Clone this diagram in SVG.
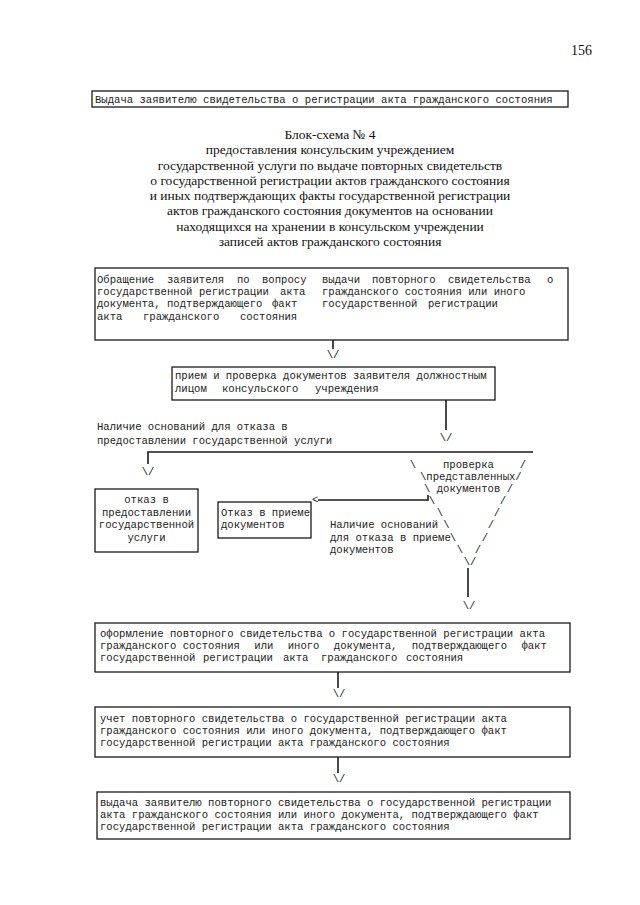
<svg xmlns="http://www.w3.org/2000/svg" width="640" height="905" viewBox="0 0 640 905">
<style>
.bx{fill:#fff;stroke:#1a1a1a;stroke-width:1.3}
.m{font-family:"Liberation Mono","Courier New",monospace;font-size:10.6px;fill:#222}
.c{text-anchor:middle}
.t{font-family:"Liberation Serif","Times New Roman",serif;font-size:13.5px;fill:#111;text-anchor:middle}
.ln{stroke:#1a1a1a;stroke-width:1.6;fill:none}
</style>
<rect width="640" height="905" fill="#fff"/>
<text x="571" y="55" font-family="Liberation Serif, Times New Roman, serif" font-size="14" fill="#111">156</text>

<g id="header">
<rect class="bx" x="92" y="91" width="476" height="16"/>
<text class="m" x="95" y="103">Выдача заявителю свидетельства о регистрации акта гражданского состояния</text>
</g>

<g id="title">
<text class="t" x="330" y="139">Блок-схема № 4</text>
<text class="t" x="330" y="154">предоставления консульским учреждением</text>
<text class="t" x="330" y="169.5">государственной услуги по выдаче повторных свидетельств</text>
<text class="t" x="330" y="184.5">о государственной регистрации актов гражданского состояния</text>
<text class="t" x="330" y="200">и иных подтверждающих факты государственной регистрации</text>
<text class="t" x="330" y="215">актов гражданского состояния документов на основании</text>
<text class="t" x="330" y="230.5">находящихся на хранении в консульском учреждении</text>
<text class="t" x="330" y="245.5">записей актов гражданского состояния</text>
</g>

<g id="n1">
<rect class="bx" x="95" y="268" width="473" height="72"/>
<text class="m" y="283"><tspan x="97">Обращение</tspan><tspan x="167">заявителя</tspan><tspan x="237">по</tspan><tspan x="262">вопросу</tspan><tspan x="322">выдачи</tspan><tspan x="372">повторного</tspan><tspan x="448">свидетельства</tspan><tspan x="547">о</tspan></text>
<text class="m" y="295"><tspan x="97">государственной</tspan><tspan x="199">регистрации</tspan><tspan x="280">акта</tspan><tspan x="322">гражданского состояния или иного</tspan></text>
<text class="m" y="307"><tspan x="97">документа,</tspan><tspan x="167">подтверждающего</tspan><tspan x="272">факт</tspan><tspan x="322">государственной</tspan><tspan x="428">регистрации</tspan></text>
<text class="m" y="320"><tspan x="97">акта</tspan><tspan x="143">гражданского</tspan><tspan x="240">состояния</tspan></text>
</g>

<g id="n2">
<rect class="bx" x="172" y="367" width="323" height="33"/>
<text class="m" x="175" y="379">прием и проверка документов заявителя должностным</text>
<text class="m" y="392"><tspan x="175">лицом</tspan><tspan x="222">консульского</tspan><tspan x="315">учреждения</tspan></text>
</g>

<g id="label-refuse-service">
<text class="m" x="97" y="430">Наличие оснований для отказа в</text>
<text class="m" x="97" y="444">предоставлении государственной услуги</text>
</g>

<g id="n3">
<rect class="bx" x="95" y="489" width="103" height="63"/>
<text class="m c" x="146.5" y="503">отказ в</text>
<text class="m c" x="146.5" y="515.5">предоставлении</text>
<text class="m c" x="146.5" y="528">государственной</text>
<text class="m c" x="146.5" y="540.5">услуги</text>
</g>

<g id="n4">
<rect class="bx" x="218" y="502" width="93" height="36"/>
<text class="m" x="221" y="516">Отказ в приеме</text>
<text class="m" x="221" y="528">документов</text>
</g>

<g id="n-check">
<text class="m c" x="413" y="468">\</text>
<text class="m" x="443" y="468">проверка</text>
<text class="m c" x="523" y="468">/</text>
<text class="m" x="420" y="480">\представленных/</text>
<text class="m" x="424" y="492">\ документов /</text>
<text class="m c" x="432" y="504">\</text>
<text class="m c" x="503" y="504">/</text>
<text class="m c" x="440" y="516">\</text>
<text class="m c" x="497" y="516">/</text>
<text class="m c" x="446.5" y="528">\</text>
<text class="m c" x="491" y="528">/</text>
<text class="m c" x="453" y="541">\</text>
<text class="m c" x="485" y="541">/</text>
<text class="m c" x="460" y="553">\</text>
<text class="m c" x="478" y="553">/</text>
<text class="m c" x="470" y="565">\/</text>
</g>

<g id="label-refuse-docs">
<text class="m" x="330" y="528">Наличие оснований</text>
<text class="m" x="330" y="541">для отказа в приеме</text>
<text class="m" x="330" y="553">документов</text>
</g>

<g id="n5">
<rect class="bx" x="95" y="623" width="475" height="49"/>
<text class="m" x="100" y="637">оформление повторного свидетельства о государственной регистрации акта</text>
<text class="m" y="649"><tspan x="100">гражданского</tspan><tspan x="182.7">состояния</tspan><tspan x="254.3">или</tspan><tspan x="287.7">иного</tspan><tspan x="333.8">документа,</tspan><tspan x="411.7">подтверждающего</tspan><tspan x="521.4">факт</tspan></text>
<text class="m" y="661"><tspan x="100">государственной</tspan><tspan x="203">регистрации</tspan><tspan x="283">акта</tspan><tspan x="321">гражданского</tspan><tspan x="406">состояния</tspan></text>
</g>

<g id="n6">
<rect class="bx" x="95" y="707" width="475" height="50"/>
<text class="m" x="100" y="722">учет повторного свидетельства о государственной регистрации акта</text>
<text class="m" x="100" y="734">гражданского состояния или иного документа, подтверждающего факт</text>
<text class="m" x="100" y="746">государственной регистрации акта гражданского состояния</text>
</g>

<g id="n7">
<rect class="bx" x="97" y="792" width="473" height="47"/>
<text class="m" x="100" y="806">выдача заявителю повторного свидетельства о государственной регистрации</text>
<text class="m" x="100" y="818">акта гражданского состояния или иного документа, подтверждающего факт</text>
<text class="m" x="100" y="830">государственной регистрации акта гражданского состояния</text>
</g>

<g id="connectors">
<path class="ln" d="M333 340V349"/>
<text class="m c" x="333" y="358">\/</text>
<path class="ln" d="M446 400V430"/>
<text class="m c" x="446" y="441">\/</text>
<path class="ln" d="M148 464V452H533"/>
<text class="m c" x="148" y="475">\/</text>
<path class="ln" d="M428 495V500H318"/>
<text class="m" x="312" y="503">&lt;</text>
<path class="ln" d="M468 568V597"/>
<text class="m c" x="469" y="609">\/</text>
<path class="ln" d="M338 672V688"/>
<text class="m c" x="339" y="697">\/</text>
<path class="ln" d="M338 757V773"/>
<text class="m c" x="339" y="782">\/</text>
</g>
</svg>
